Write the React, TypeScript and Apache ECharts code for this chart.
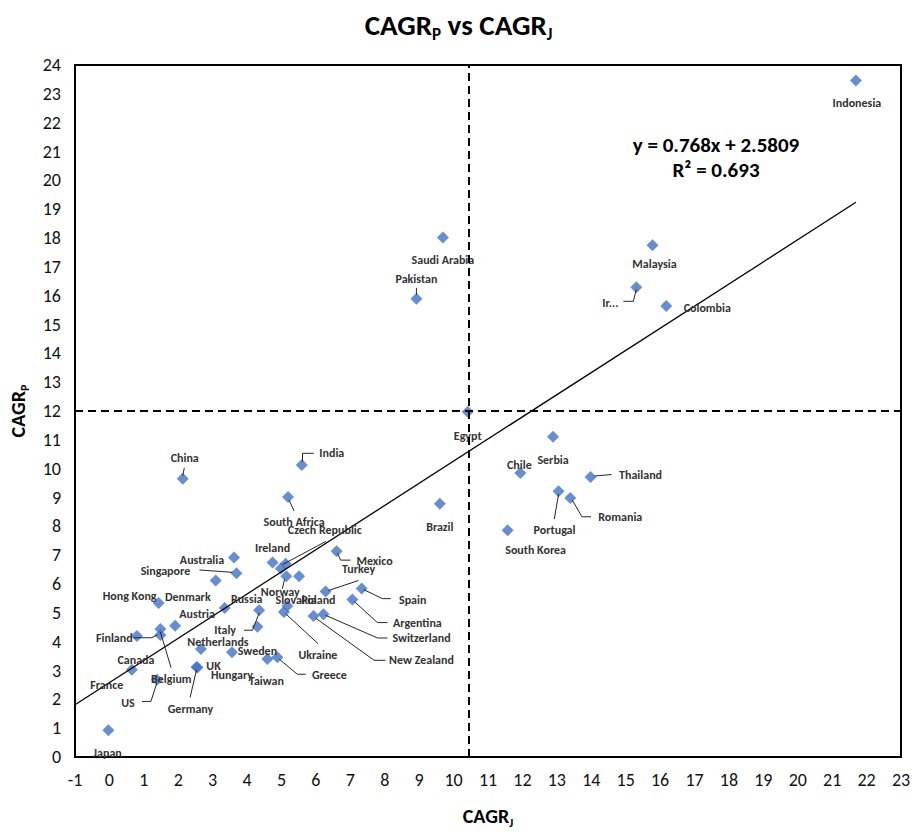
import React, { useEffect, useRef } from "react";
import * as echarts from "echarts";

// ---- data ----
const countries = [
  "Indonesia", "Saudi Arabia", "Pakistan", "Malaysia", "Iran", "Colombia", "Egypt", "Serbia",
  "Chile", "Thailand", "Portugal", "Romania", "Brazil", "South Korea", "China", "India",
  "South Africa", "Mexico", "Australia", "Singapore", "Denmark", "Ireland", "Czech Republic", "",
  "Norway", "Slovakia", "Turkey", "Spain", "Argentina", "Switzerland", "New Zealand", "Hong Kong",
  "Russia", "Italy", "Sweden", "Poland", "Ukraine", "Austria", "Belgium", "Finland",
  "Canada", "Netherlands", "Hungary", "Taiwan", "Greece", "Germany", "UK", "France", "US", "Japan",
];
const cagrJ = [
  21.69, 9.69, 8.92, 15.78, 15.31, 16.18, 10.41, 12.89,
  11.94, 13.98, 13.05, 13.39, 9.6, 11.57, 2.13, 5.59,
  5.19, 6.6, 3.62, 3.69, 3.09, 4.74, 4.98, 5.12,
  5.14, 5.51, 6.28, 7.33, 7.06, 6.22, 5.93, 1.43,
  3.35, 4.35, 4.3, 5.17, 5.07, 1.91, 1.48, 1.48,
  0.8, 2.66, 3.56, 4.59, 4.88, 2.53, 2.56, 0.65, 1.38, -0.03,
];
const cagrP = [
  23.46, 18.02, 15.89, 17.75, 16.29, 15.64, 11.97, 11.11,
  9.85, 9.71, 9.22, 8.98, 8.78, 7.86, 9.65, 10.13,
  9.02, 7.14, 6.92, 6.37, 6.12, 6.75, 6.54, 6.7,
  6.27, 6.27, 5.74, 5.84, 5.46, 4.95, 4.89, 5.34,
  5.17, 5.09, 4.52, 5.24, 5.03, 4.55, 4.44, 4.23,
  4.2, 3.75, 3.63, 3.4, 3.46, 3.12, 3.1, 3.03, 2.68, 0.93,
];
const trendSlope = 0.768;
const trendIntercept = 2.5809;
const trendR2 = 0.693;
const splitJ = 10.45;
const splitP = 12;
const xMin = -1, xMax = 23, yMin = 0, yMax = 24;

// ---- label layout (pixel offsets from each marker, style only) ----
type LabelCfg = { d: [number, number]; text?: string; leader?: [number, number][] };
const labelLayout: Record<string, LabelCfg> = {
  Indonesia: { d: [1, 22] },
  "Saudi Arabia": { d: [0, 23] },
  Pakistan: { d: [0, -20], leader: [[0, -11], [0, -4]] },
  Malaysia: { d: [2, 19] },
  Iran: { d: [-26, 16], text: "Ir...", leader: [[-13, 14], [-3, 14], [0, 2]] },
  Colombia: { d: [41, 2] },
  Egypt: { d: [0, 24] },
  Serbia: { d: [0, 23] },
  Chile: { d: [-1, -8] },
  Thailand: { d: [50, -2], leader: [[4, -1], [21, -2.5]] },
  Portugal: { d: [-4, 39], leader: [[-4.3, 28], [0, 3]] },
  Romania: { d: [50, 19], leader: [[2, 2], [11.7, 18.7], [20.7, 18.7]] },
  Brazil: { d: [0, 23] },
  "South Korea": { d: [28, 20] },
  China: { d: [2, -21], leader: [[1.6, -11], [0, -3]] },
  India: { d: [30, -12], leader: [[12, -11.6], [0.7, -11.6], [0.7, -3]] },
  "South Africa": { d: [6, 25], leader: [[1, 3], [6, 14]] },
  "Czech Republic": { d: [44, -38], leader: [[45, -27], [2, -4]] },
  Ireland: { d: [0, -14] },
  Mexico: { d: [38, 10], leader: [[1, 2], [4, 9], [14, 9]] },
  Turkey: { d: [33, -22], leader: [[33, -11], [3, -1]] },
  Spain: { d: [51, 11], leader: [[2, 1], [20.7, 10], [29, 10]] },
  Argentina: { d: [65, 23], leader: [[2, 2], [25, 23], [35, 23]] },
  Switzerland: { d: [98, 24], leader: [[2, 1], [54, 23.7], [64, 23.7]] },
  "New Zealand": { d: [108, 44], leader: [[2, 2], [60.6, 44.3], [72, 44.3]] },
  Ukraine: { d: [34, 43], leader: [[2, 2], [34, 31.6]] },
  Greece: { d: [52, 18], leader: [[2, 2], [20, 17], [28.3, 17]] },
  Taiwan: { d: [-1, 22] },
  Hungary: { d: [0, 23] },
  Sweden: { d: [0, 24] },
  Netherlands: { d: [17, -7] },
  UK: { d: [16, -2] },
  Germany: { d: [-6, 42], leader: [[-6.4, 30.4], [0, 3]] },
  France: { d: [-25, 15] },
  Canada: { d: [-1, 24] },
  US: { d: [-29, 23], leader: [[-15, 21.7], [-6, 21.7], [0, 3]] },
  Belgium: { d: [11, 50], leader: [[10.7, 38.7], [0, 3]] },
  Finland: { d: [-46, 3], leader: [[-27, 2.7], [-9, 2.7], [-3, 0]] },
  Austria: { d: [22, -12] },
  Italy: { d: [-34, 20], leader: [[-15, 20], [-6.6, 20], [0, 3]] },
  Russia: { d: [22, -9] },
  "Hong Kong": { d: [-29, -7] },
  Denmark: { d: [-28, 16] },
  Norway: { d: [-6, 16], leader: [[-4, 12.6], [-1.7, 3]] },
  Slovakia: { d: [-3, 24] },
  Poland: { d: [31, -6] },
  Japan: { d: [-1, 23] },
  Singapore: { d: [-71, -2], leader: [[-37, -3.4], [-4, -1]] },
  Australia: { d: [-32, 3] },
};

const FONT = "Carlito, 'Liberation Sans Narrow', 'Open Sans', sans-serif";

export default function App() {
  const ref = useRef<HTMLDivElement>(null);

  useEffect(() => {
    if (!ref.current) return;
    const chart = echarts.init(ref.current, undefined, { renderer: "svg" });
    const points = cagrJ.map((x, i) => [x, cagrP[i], i]);
    const trendEndX = Math.max(...cagrJ);
    const trendData = [
      [xMin, trendSlope * xMin + trendIntercept],
      [trendEndX, trendSlope * trendEndX + trendIntercept],
    ];
    const subRich = {
      m: { fontSize: 29, fontWeight: "bold", fontFamily: FONT, color: "#000", lineHeight: 36, verticalAlign: "middle" },
      s: { fontSize: 17, fontWeight: "bold", fontFamily: FONT, color: "#000", lineHeight: 16, verticalAlign: "bottom" },
    };
    const axRich = {
      m: { fontSize: 20, fontWeight: "bold", fontFamily: FONT, color: "#000", lineHeight: 26, verticalAlign: "middle" },
      s: { fontSize: 12, fontWeight: "bold", fontFamily: FONT, color: "#000", lineHeight: 11, verticalAlign: "bottom" },
    };

    chart.setOption({
      animation: false,
      backgroundColor: "#fff",
      title: {
        text: "{m|CAGR}{s|P}{m| vs CAGR}{s|J}",
        left: "center",
        top: 2,
        textStyle: { rich: subRich },
      },
      grid: {
        left: 74, right: 16, top: 65, bottom: 71,
        show: true, borderColor: "#000", borderWidth: 2, backgroundColor: "transparent",
      },
      xAxis: {
        type: "value", min: xMin, max: xMax, interval: 1,
        name: "{m|CAGR}{s|J}", nameLocation: "middle", nameGap: 46,
        nameTextStyle: { rich: axRich },
        axisLine: { show: true, onZero: false, lineStyle: { color: "#000", width: 2 } },
        axisTick: { show: false },
        splitLine: { show: false },
        axisLabel: { fontSize: 18, color: "#111", fontFamily: FONT, margin: 14 },
      },
      yAxis: {
        type: "value", min: yMin, max: yMax, interval: 1,
        name: "{m|CAGR}{s|P}", nameLocation: "middle", nameGap: 44, nameRotate: 90,
        nameTextStyle: { rich: axRich },
        axisLine: { show: true, onZero: false, lineStyle: { color: "#000", width: 2 } },
        axisTick: { show: false },
        splitLine: { show: false },
        axisLabel: { fontSize: 18, color: "#111", fontFamily: FONT, margin: 14 },
      },
      graphic: [
        {
          type: "text", x: 716, y: 145, z: 10,
          style: {
            text: `y = ${trendSlope}x + ${trendIntercept}`, align: "center", verticalAlign: "middle",
            fontSize: 21, fontWeight: "bold", fontFamily: FONT, fill: "#000",
          },
        },
        {
          type: "text", x: 716, y: 170, z: 10,
          style: {
            text: `R² = ${trendR2}`, align: "center", verticalAlign: "middle",
            fontSize: 21, fontWeight: "bold", fontFamily: FONT, fill: "#000",
          },
        },
      ],
      series: [
        {
          type: "scatter",
          data: points,
          symbol: "diamond",
          symbolSize: 12,
          itemStyle: { color: "#4472C4" },
          z: 2,
        },
        {
          type: "line",
          data: trendData,
          symbol: "none",
          lineStyle: { color: "#000", width: 1.3 },
          z: 3,
          silent: true,
          markLine: {
            silent: true,
            symbol: "none",
            label: { show: false },
            lineStyle: { color: "#000", width: 2, type: [8, 5] },
            data: [{ xAxis: splitJ }, { yAxis: splitP }],
          },
        },
        {
          type: "custom",
          data: points,
          encode: { x: 0, y: 1 },
          z: 4,
          silent: true,
          clip: false,
          renderItem: (params: any, api: any) => {
            const i = params.dataIndex;
            const name = countries[i];
            const cfg = labelLayout[name];
            if (!cfg) return { type: "group", children: [] };
            const p = api.coord([api.value(0), api.value(1)]);
            const children: any[] = [];
            if (cfg.leader) {
              children.push({
                type: "polyline",
                shape: { points: cfg.leader.map(([a, b]) => [p[0] + a, p[1] + b]) },
                style: { stroke: "#262626", lineWidth: 1, fill: null },
              });
            }
            children.push({
              type: "text",
              x: p[0] + cfg.d[0],
              y: p[1] + cfg.d[1],
              style: {
                text: cfg.text ?? name,
                align: "center",
                verticalAlign: "middle",
                fontSize: 12,
                fontWeight: "bold",
                fontFamily: FONT,
                fill: "#333",
              },
            });
            return { type: "group", children };
          },
        },
      ],
    });
    return () => chart.dispose();
  }, []);

  return (
    <div
      ref={ref}
      style={{ position: "fixed", left: 0, top: 0, width: 917, height: 834, background: "#fff" }}
    />
  );
}
